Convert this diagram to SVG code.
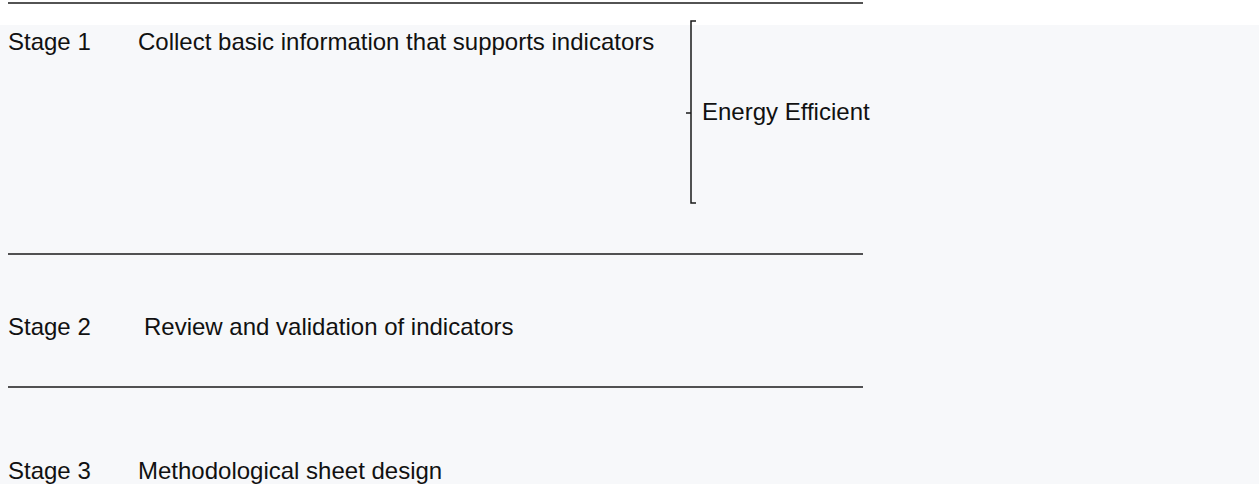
<svg xmlns="http://www.w3.org/2000/svg" width="1259" height="484" viewBox="0 0 1259 484">
<style>
.t{font-family:"Liberation Sans",Arial,sans-serif;font-size:24px;fill:#111}
.ln{stroke:#1a1a1a;stroke-width:1.5;fill:none}
</style>
<rect x="0" y="0" width="1259" height="484" fill="#ffffff"/>
<rect x="0" y="25" width="1259" height="459" fill="#f7f8fa"/>
<g id="connectors">
<line class="ln" x1="8" y1="3" x2="863" y2="3"/>
<line class="ln" x1="8" y1="254" x2="863" y2="254"/>
<line class="ln" x1="8" y1="387" x2="863" y2="387"/>
<path class="ln" d="M696 21 H691 V203 H696 M686 113 H691"/>
</g>
<g id="stage1">
<text class="t" x="8" y="50">Stage 1</text>
<text class="t" x="138" y="50">Collect basic information that supports indicators</text>
</g>
<g id="energy">
<text class="t" x="702" y="120">Energy Efficient</text>
</g>
<g id="stage2">
<text class="t" x="8" y="335">Stage 2</text>
<text class="t" x="144" y="335">Review and validation of indicators</text>
</g>
<g id="stage3">
<text class="t" x="8" y="479">Stage 3</text>
<text class="t" x="138" y="479">Methodological sheet design</text>
</g>
</svg>
